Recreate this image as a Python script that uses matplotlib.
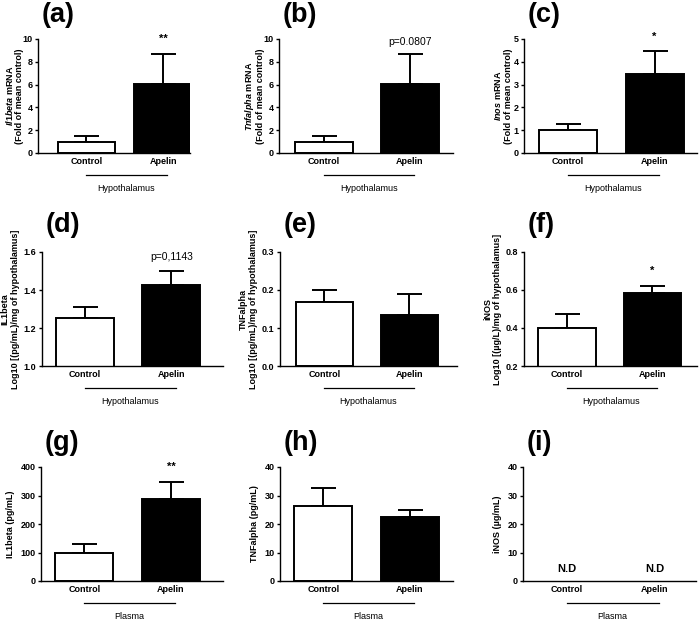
import matplotlib
matplotlib.use("Agg")
import matplotlib.pyplot as plt

plt.rcParams['font.family'] = ['Liberation Sans', 'DejaVu Sans']
plt.rcParams['mathtext.fontset'] = 'custom'
plt.rcParams['mathtext.it'] = 'Liberation Sans:italic:bold'
plt.rcParams['mathtext.rm'] = 'Liberation Sans:bold'
plt.rcParams['mathtext.bf'] = 'Liberation Sans:bold'

groups = ["Control", "Apelin"]

# hypothalamus mRNA (fold of mean control)
il1b_mrna = [1.0, 6.05]
il1b_mrna_sem = [0.52, 2.63]
tnfa_mrna = [1.0, 6.05]
tnfa_mrna_sem = [0.52, 2.63]
inos_mrna = [0.99, 3.48]
inos_mrna_sem = [0.29, 0.98]

# hypothalamus protein, log10
il1b_hyp = [1.254, 1.425]
il1b_hyp_sem = [0.055, 0.073]
tnfa_hyp = [0.169, 0.133]
tnfa_hyp_sem = [0.031, 0.056]
inos_hyp = [0.401, 0.586]
inos_hyp_sem = [0.074, 0.035]

# plasma
il1b_plasma = [100, 287]
il1b_plasma_sem = [31, 59]
tnfa_plasma = [26.4, 22.3]
tnfa_plasma_sem = [6.2, 2.6]

W, H = 700, 622

panels = [
    # label, values, sem, ylabel, yticks, group, note, note_y, note_style
    ("(a)", il1b_mrna, il1b_mrna_sem, r"$\it{Il1beta}$ mRNA" + "\n(Fold of mean control)",
     [0, 2, 4, 6, 8, 10], "Hypothalamus", "**", 10.0, "star"),
    ("(b)", tnfa_mrna, tnfa_mrna_sem, r"$\it{Tnfalpha}$ mRNA" + "\n(Fold of mean control)",
     [0, 2, 4, 6, 8, 10], "Hypothalamus", "p=0.0807", 9.7, "p"),
    ("(c)", inos_mrna, inos_mrna_sem, r"$\it{Inos}$ mRNA" + "\n(Fold of mean control)",
     [0, 1, 2, 3, 4, 5], "Hypothalamus", "*", 5.1, "star"),
    ("(d)", il1b_hyp, il1b_hyp_sem, "IL1beta\nLog10 [(pg/mL)/mg of hypothalamus]",
     [1.0, 1.2, 1.4, 1.6], "Hypothalamus", "p=0,1143", 1.575, "p"),
    ("(e)", tnfa_hyp, tnfa_hyp_sem, "TNFalpha\nLog10 [(pg/mL)/mg of hypothalamus]",
     [0.0, 0.1, 0.2, 0.3], "Hypothalamus", None, None, None),
    ("(f)", inos_hyp, inos_hyp_sem, "iNOS\nLog10 [(µg/L)/mg of hypothalamus]",
     [0.2, 0.4, 0.6, 0.8], "Hypothalamus", "*", 0.70, "star"),
    ("(g)", il1b_plasma, il1b_plasma_sem, "IL1beta (pg/mL)",
     [0, 100, 200, 300, 400], "Plasma", "**", 400, "star"),
    ("(h)", tnfa_plasma, tnfa_plasma_sem, "TNFalpha (pg/mL)",
     [0, 10, 20, 30, 40], "Plasma", None, None, None),
    ("(i)", None, None, "iNOS (µg/mL)",
     [0, 10, 20, 30, 40], "Plasma", None, None, None),
]

# axes boxes in pixels: left spine, right end, top, bottom ; xlim ; bar width ; ylabel pad
boxes = [
    (38, 190, 39, 153, (-0.63, 1.35), 0.75, -1.5),
    (279, 453, 39, 153, (-0.52, 1.50), 0.67, -1.5),
    (524, 697, 39, 153, (-0.51, 1.49), 0.67, 0.5),
    (42, 223, 252, 366, (-0.50, 1.60), 0.67, 3),
    (280, 457, 252, 366, (-0.52, 1.56), 0.67, 3),
    (524, 697, 252, 366, (-0.50, 1.52), 0.67, 3),
    (41, 223, 467, 581, (-0.50, 1.60), 0.67, 4),
    (280, 453, 467, 581, (-0.50, 1.50), 0.67, 4),
    (523, 696, 467, 581, (-0.50, 1.47), 0.67, 4),
]
label_y = [15, 15, 15, 225, 225, 225, 443, 443, 443]

fig = plt.figure(figsize=(W / 100, H / 100), dpi=100)
fs = 6.5

for k, (p, box) in enumerate(zip(panels, boxes)):
    lab, vals, sem, ylab, yticks, grp, note, note_y, note_style = p
    x0, x1, top, bot, xlim, bw, lpad = box
    ax = fig.add_axes([x0 / W, 1 - bot / H, (x1 - x0) / W, (bot - top) / H])
    xs = [0, 1]
    if vals is not None:
        ax.bar(xs, vals, bw, color=["white", "black"], edgecolor="black",
               linewidth=1.4, zorder=2)
        ax.errorbar(xs, vals, yerr=[[0, 0], sem], fmt="none", ecolor="black",
                    elinewidth=1.4, capsize=9, capthick=1.4, zorder=1)
    else:
        for x in xs:
            ax.text(x, yticks[0] + 0.105 * (yticks[-1] - yticks[0]), "N.D",
                    ha="center", va="center", fontsize=8, fontweight="bold")
    ax.set_xlim(*xlim)
    ax.set_ylim(yticks[0], yticks[-1])
    ax.set_yticks(yticks)
    if isinstance(yticks[1], float):
        ax.set_yticklabels([f"{t:.1f}" for t in yticks])
    ax.set_xticks(xs)
    ax.set_xticklabels(groups)
    for t in ax.get_xticklabels() + ax.get_yticklabels():
        t.set_fontweight("bold")
        t.set_fontsize(fs)
    ax.tick_params(axis="x", length=0, pad=3)
    ax.tick_params(axis="y", length=2.5, width=1, pad=1.5)
    ax.spines["top"].set_visible(False)
    ax.spines["right"].set_visible(False)
    ax.spines["left"].set_linewidth(1.0)
    ax.spines["bottom"].set_linewidth(1.0)
    ax.set_ylabel(ylab, fontsize=fs, fontweight="bold", labelpad=lpad,
                  linespacing=1.1)

    tr = ax.get_xaxis_transform()
    ax.plot([0, 1.05], [-0.19, -0.19], color="black", lw=0.9, transform=tr,
            clip_on=False)
    ax.text(0.52, -0.31, grp, transform=tr, ha="center", va="center",
            fontsize=fs)

    if note is not None:
        if note_style == "star":
            ax.text(1, note_y, note, ha="center", va="center", fontsize=8,
                    fontweight="bold")
        else:
            ax.text(1, note_y, note, ha="center", va="center", fontsize=7.5)

    fig.text((x0 + 4) / W, 1 - label_y[k] / H, lab, ha="left", va="center",
             fontsize=19.5, fontweight="bold")

fig.savefig("out.png", dpi=100)
